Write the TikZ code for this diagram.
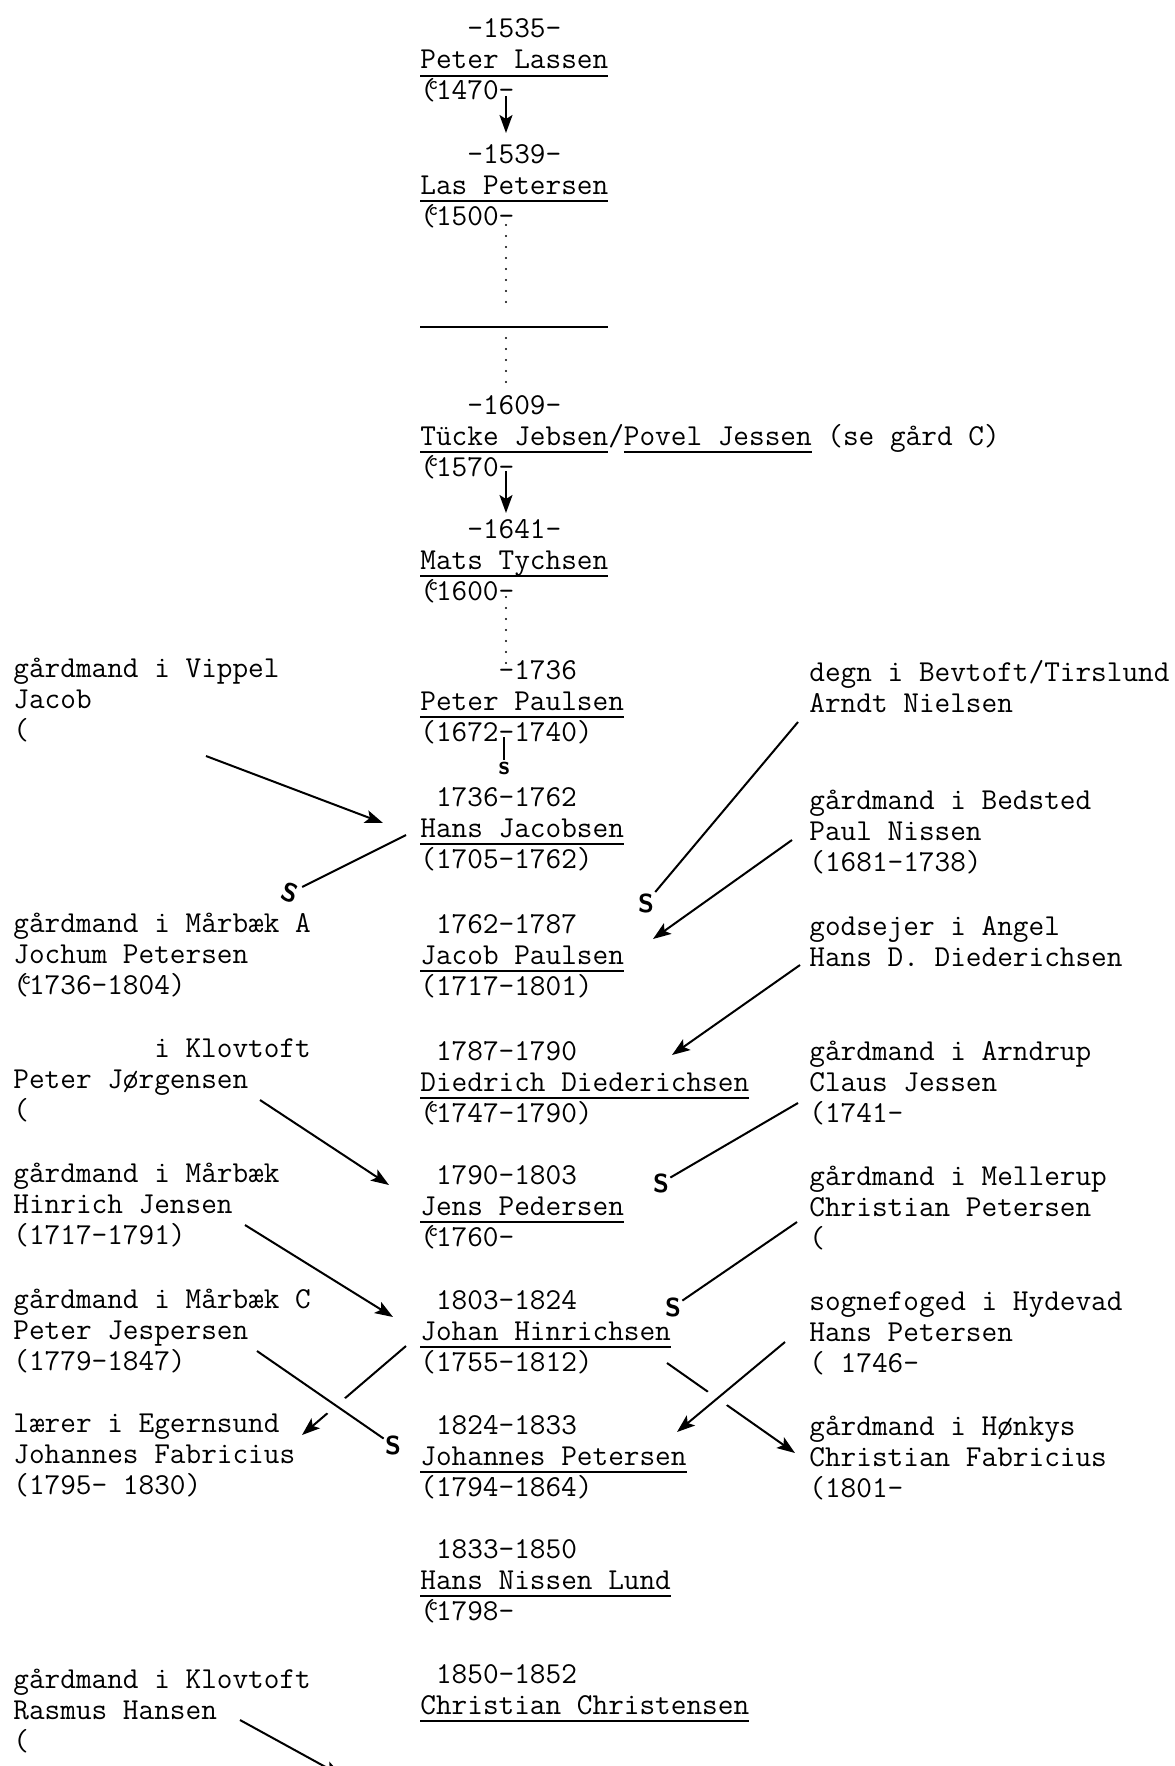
\documentclass[tikz,border=0pt]{standalone}
\usepackage{tikz}
\usetikzlibrary{arrows.meta}
\newlength\navnbredde
\newcommand\navn[1]{\settowidth\navnbredde{#1}\rlap{\rule[-4pt]{\navnbredde}{1pt}}#1}
\newcommand\cirka{(\llap{\raisebox{5pt}{\fontsize{9}{9}\selectfont\bfseries c}\kern-1pt}}
\newcommand\blok[1]{\begin{tabular}[t]{@{}l@{}}#1\end{tabular}}
\begin{document}
\begin{tikzpicture}[x=0.5pt,y=-0.5pt]
    \tikzset{pers/.style = {anchor=base west, inner sep=0pt,
        font=\ttfamily\fontsize{15.2}{15.5}\selectfont}}
    \tikzset{smerke/.style = {inner sep=0.5pt, font=\sffamily\bfseries\fontsize{13}{13}\selectfont}}
    \tikzset{linje/.style = {line width=1pt}}
    \tikzset{pil/.style = {linje, -{Stealth[length=9pt,width=6.5pt,inset=2pt]}}}
    \tikzset{prikket/.style = {line width=1.1pt, line cap=round, dash pattern=on 0pt off 5.5pt}}
    \tikzset{bro/.style = {preaction={draw=white, line width=11pt, arrows=-, shorten <=6pt, shorten >=20pt}}}
    \useasboundingbox (0,0) rectangle (1174,1766);

    % gaarden, midten
    \node[pers] (pl) at (420,38) {\blok{\hphantom{000}-1535-\\\navn{Peter Lassen}\\\cirka1470-}};
    \node[pers] (lp) at (420,163) {\blok{\hphantom{000}-1539-\\\navn{Las Petersen}\\\cirka1500-}};
    \node[pers] (ukendt) at (420,320) {\navn{\hphantom{Las Petersen}}};
    \node[pers] (tj) at (420,414) {\blok{\hphantom{000}-1609-\\\navn{Tücke Jebsen}/\navn{Povel Jessen} (se gård C)\\\cirka1570-}};
    \node[pers] (mt) at (420,538) {\blok{\hphantom{000}-1641-\\\navn{Mats Tychsen}\\\cirka1600-}};
    \node[pers] (pp) at (420,679) {\blok{\hphantom{00000}-1736\\\navn{Peter Paulsen}\\(1672-1740)}};
    \node[pers] (hj) at (420,806) {\blok{\hphantom{0}1736-1762\\\navn{Hans Jacobsen}\\(1705-1762)}};
    \node[pers] (jp) at (420,933) {\blok{\hphantom{0}1762-1787\\\navn{Jacob Paulsen}\\(1717-1801)}};
    \node[pers] (dd) at (420,1060) {\blok{\hphantom{0}1787-1790\\\navn{Diedrich Diederichsen}\\\cirka1747-1790)}};
    \node[pers] (jpe) at (420,1184) {\blok{\hphantom{0}1790-1803\\\navn{Jens Pedersen}\\\cirka1760-}};
    \node[pers] (jh) at (420,1309) {\blok{\hphantom{0}1803-1824\\\navn{Johan Hinrichsen}\\(1755-1812)}};
    \node[pers] (jpt) at (420,1434) {\blok{\hphantom{0}1824-1833\\\navn{Johannes Petersen}\\(1794-1864)}};
    \node[pers] (hnl) at (420,1558) {\blok{\hphantom{0}1833-1850\\\navn{Hans Nissen Lund}\\\cirka1798-}};
    \node[pers] (cc) at (420,1683) {\blok{\hphantom{0}1850-1852\\\navn{Christian Christensen}}};

    % venstre side
    \node[pers] (vippel) at (13,677) {\blok{gårdmand i Vippel\\Jacob\\(}};
    \node[pers] (jochum) at (13,932) {\blok{gårdmand i Mårbæk A\\Jochum Petersen\\\cirka1736-1804)}};
    \node[pers] (pj) at (13,1057) {\blok{\hphantom{000000000}i Klovtoft\\Peter Jørgensen\\(}};
    \node[pers] (hinrich) at (13,1182) {\blok{gårdmand i Mårbæk\\Hinrich Jensen\\(1717-1791)}};
    \node[pers] (pjes) at (13,1308) {\blok{gårdmand i Mårbæk C\\Peter Jespersen\\(1779-1847)}};
    \node[pers] (jf) at (13,1432) {\blok{lærer i Egernsund\\Johannes Fabricius\\(1795- 1830)}};
    \node[pers] (rh) at (13,1688) {\blok{gårdmand i Klovtoft\\Rasmus Hansen\\(}};

    % hoejre side
    \node[pers] (an) at (809,681) {\blok{degn i Bevtoft/Tirslund\\Arndt Nielsen}};
    \node[pers] (pn) at (809,809) {\blok{gårdmand i Bedsted\\Paul Nissen\\(1681-1738)}};
    \node[pers] (hdd) at (809,935) {\blok{godsejer i Angel\\Hans D. Diederichsen}};
    \node[pers] (cj) at (809,1060) {\blok{gårdmand i Arndrup\\Claus Jessen\\(1741-}};
    \node[pers] (cp) at (809,1185) {\blok{gårdmand i Mellerup\\Christian Petersen\\(}};
    \node[pers] (hp) at (809,1310) {\blok{sognefoged i Hydevad\\Hans Petersen\\( 1746-}};
    \node[pers] (cf) at (809,1435) {\blok{gårdmand i Hønkys\\Christian Fabricius\\(1801-}};

    % S-maerker
    \node[smerke] (s1) at (504,768) {s};
    \node[smerke, rotate=-20] (s2) at (290,893) {S};
    \node[smerke] (s3) at (646,903) {S};
    \node[smerke] (s4) at (661,1183) {S};
    \node[smerke] (s5) at (673,1307) {S};
    \node[smerke] (s6) at (393,1445) {S};
    \coordinate (ned) at (342,1776);

    % stammen
    \draw[pil] ([shift={(86,58)}]pl.base west) -- ([shift={(86,-30)}]lp.base west);
    \draw[prikket] ([shift={(86,62)}]lp.base west) -- ([shift={(86,-16)}]ukendt.base west);
    \draw[prikket] ([shift={(86,18)}]ukendt.base west) -- ([shift={(86,-25)}]tj.base west);
    \draw[pil] ([shift={(86,57)}]tj.base west) -- ([shift={(86,-25)}]mt.base west);
    \draw[prikket] ([shift={(86,59)}]mt.base west) -- ([shift={(86,-14)}]pp.base west);
    \draw[linje] ([shift={(84,58)}]pp.base west) -- (s1);

    % ind- og udgifte
    \draw[pil] ([shift={(193,79)}]vippel.base west) -- ([shift={(-37,17)}]hj.base west);
    \draw[linje] ([shift={(-14,29)}]hj.base west) -- (s2);
    \draw[linje] ([shift={(-11,41)}]an.base west) -- (s3);
    \draw[pil] ([shift={(-17,31)}]pn.base west) -- ([shift={(233,6)}]jp.base west);
    \draw[pil] ([shift={(-9,30)}]hdd.base west) -- ([shift={(252,-5)}]dd.base west);
    \draw[linje] ([shift={(-11,43)}]cj.base west) -- (s4);
    \draw[pil] ([shift={(247,43)}]pj.base west) -- ([shift={(-31,1)}]jpe.base west);
    \draw[linje] ([shift={(-12,37)}]cp.base west) -- (s5);
    \draw[pil] ([shift={(232,43)}]hinrich.base west) -- ([shift={(-27,8)}]jh.base west);
    \draw[pil] ([shift={(-14,37)}]jh.base west) -- ([shift={(289,3)}]jf.base west);
    \draw[pil] ([shift={(247,54)}]jh.base west) -- ([shift={(-14,18)}]cf.base west);
    \draw[linje,bro] ([shift={(244,43)}]pjes.base west) -- (s6);
    \draw[pil,bro] ([shift={(-24,32)}]hp.base west) -- ([shift={(257,-2)}]jpt.base west);
    \draw[pil] ([shift={(227,32)}]rh.base west) -- (ned);
\end{tikzpicture}
\end{document}
